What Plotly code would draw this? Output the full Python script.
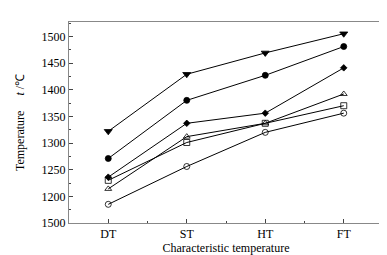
import plotly.graph_objects as go

categories = ["DT", "ST", "HT", "FT"]
s_tri_down = [1322, 1429, 1469, 1505]
s_circle = [1271, 1380, 1427, 1481]
s_diamond = [1236, 1337, 1356, 1441]
s_tri_up = [1214, 1312, 1337, 1392]
s_square = [1230, 1301, 1337, 1370]
s_circle_open = [1185, 1256, 1320, 1356]

y_tickvals = [1150, 1200, 1250, 1300, 1350, 1400, 1450, 1500]
y_ticktext = ["1500", "1200", "1250", "1300", "1350", "1400", "1450", "1500"]

series = [
    (s_tri_down, "triangle-down", 7),
    (s_circle, "circle", 6),
    (s_diamond, "diamond", 5),
    (s_tri_up, "triangle-up-open", 6),
    (s_square, "square-open", 6),
    (s_circle_open, "circle-open", 6),
]

xpos = list(range(len(categories)))
fig = go.Figure()
for vals, sym, sz in series:
    fig.add_trace(go.Scatter(
        x=xpos, y=vals, mode="lines+markers",
        line=dict(color="black", width=1),
        marker=dict(symbol=sym, size=sz, color="black",
                    line=dict(color="black", width=0.8)),
        showlegend=False,
    ))

font = dict(family="Liberation Serif", size=12, color="black")
fig.update_layout(
    width=387, height=255,
    margin=dict(l=60, r=11, t=14, b=32),
    paper_bgcolor="white", plot_bgcolor="white",
    font=font,
    xaxis=dict(
        range=[-0.5, 3.5], tickvals=xpos, ticktext=categories,
        ticks="inside", ticklen=4, tickcolor="#444",
        showline=True, linecolor="#888", linewidth=1, mirror=True,
        showgrid=False, zeroline=False,
        minor=dict(tickvals=[-0.5, 0.5, 1.5, 2.5, 3.5], ticks="inside",
                   ticklen=2, tickcolor="#444"),
        title=dict(text="Characteristic temperature", standoff=2, font=font),
    ),
    yaxis=dict(
        range=[1150, 1527], tickvals=y_tickvals, ticktext=y_ticktext,
        ticks="inside", ticklen=4, tickcolor="#444",
        showline=True, linecolor="#888", linewidth=1, mirror=True,
        showgrid=False, zeroline=False,
        minor=dict(tickvals=[1175, 1225, 1275, 1325, 1375, 1425, 1475, 1525],
                   ticks="inside", ticklen=2, tickcolor="#444"),
        title=dict(text="Temperature     <i>t</i> /℃", standoff=14, font=font),
    ),
)

fig.write_html("out.html")
